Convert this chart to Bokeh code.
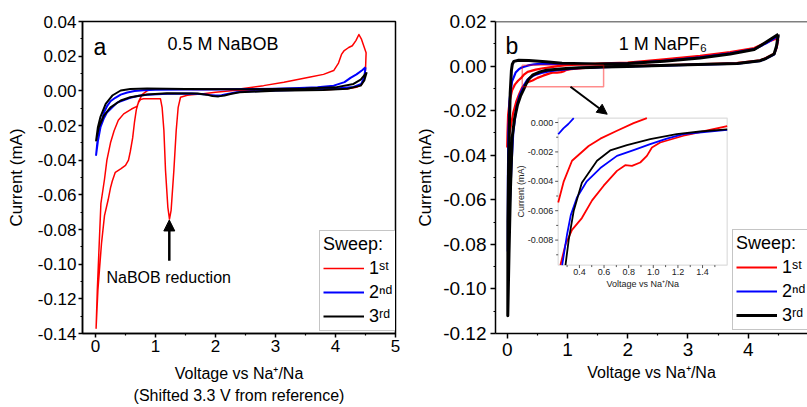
import numpy as np
from bokeh.plotting import figure
from bokeh.models import (Range1d, FixedTicker, NumeralTickFormatter, Label, Arrow,
                          NormalHead, BoxAnnotation, Span, Title)
from bokeh.layouts import row
from bokeh.embed import file_html
from bokeh.resources import INLINE
from bokeh.core.properties import value

FONT = "Liberation Sans"

# ---------------- data: panel a (0.5 M NaBOB) ----------------
a_red_v = [2.8, 2.3, 2.0, 1.8, 1.6, 1.53, 1.417, 1.378, 1.345, 1.306, 1.26, 1.233, 1.206, 1.167,
           1.14, 1.11, 1.083, 1.0, 0.9, 0.8, 0.75, 0.72, 0.69, 0.6, 0.47, 0.38, 0.31, 0.25, 0.19,
           0.15, 0.09, 0.055, 0.03, 0.01, 0.04, 0.1, 0.15, 0.21, 0.25, 0.28, 0.33, 0.42, 0.5, 0.55,
           0.58, 0.62, 0.65, 0.68, 0.72, 0.78, 0.86, 0.95, 1.2, 1.8, 2.4, 2.8, 3.14, 3.58, 3.8,
           3.97, 4.05, 4.1, 4.14, 4.22, 4.28, 4.34, 4.39, 4.43, 4.47, 4.51, 4.5, 4.47, 4.43, 4.35,
           4.2, 3.9, 3.4]
a_red_i = [0.0004, 0.0002, -0.0008, -0.0017, -0.0022, -0.0025, -0.0037, -0.0095, -0.0229, -0.046,
           -0.069, -0.074, -0.0672, -0.046, -0.0229, -0.0095, -0.0046, -0.0045, -0.0045, -0.0046,
           -0.0050, -0.0065, -0.009, -0.0105, -0.0133, -0.017, -0.023, -0.030, -0.040, -0.051,
           -0.065, -0.094, -0.115, -0.137, -0.115, -0.088, -0.072, -0.063, -0.056, -0.052,
           -0.047, -0.045, -0.043, -0.040, -0.035, -0.027, -0.018, -0.011, -0.006, -0.002, 0.0,
           0.001, 0.0009, 0.0007, 0.001, 0.003, 0.005, 0.008, 0.0095, 0.0117, 0.016, 0.021, 0.023,
           0.025, 0.026, 0.029, 0.0325, 0.030, 0.026, 0.022, 0.012, 0.006, 0.0035, 0.002, 0.0012,
           0.0008, 0.0005]

a_blue_v = [4.5, 4.48, 4.43, 4.3, 4.0, 3.5, 3.0, 2.6, 2.35, 2.2, 2.1, 2.0, 1.9, 1.8, 1.6, 1.2,
            0.86, 0.72, 0.58, 0.42, 0.36, 0.25, 0.19, 0.14, 0.083, 0.04, 0.01, 0.03, 0.055, 0.1,
            0.14, 0.19, 0.25, 0.33, 0.42, 0.53, 0.65, 0.8, 1.0, 1.5, 2.0, 2.5, 3.0, 3.4, 3.7,
            3.97, 4.15, 4.25, 4.35, 4.45, 4.5]
a_blue_i = [0.0136, 0.008, 0.004, 0.0022, 0.0013, 0.0006, 0.0002, -0.0003, -0.0008, -0.0018,
            -0.0025, -0.0027, -0.0024, -0.0019, -0.0016, -0.0017, -0.0023, -0.0028, -0.004, -0.006,
            -0.0068, -0.0105, -0.0125, -0.0158, -0.021, -0.029, -0.037, -0.030, -0.025, -0.018,
            -0.0125, -0.009, -0.006, -0.004, -0.0022, -0.001, -0.0001, 0.0004, 0.0006, 0.0007,
            0.0008, 0.001, 0.0012, 0.0016, 0.002, 0.003, 0.005, 0.0075, 0.0095, 0.012, 0.0136]

a_black_v = [4.52, 4.48, 4.42, 4.2, 3.8, 3.0, 2.4, 2.25, 2.15, 2.05, 1.95, 1.85, 1.7, 1.19, 0.86,
             0.58, 0.42, 0.25, 0.14, 0.055, 0.01, 0.04, 0.083, 0.17, 0.28, 0.42, 0.58, 0.86, 1.5,
             2.5, 3.5, 4.0, 4.3, 4.42, 4.52]
a_black_i = [0.0107, 0.006, 0.003, 0.0012, 0.0005, 0.0, -0.0008, -0.0018, -0.0027, -0.0032,
             -0.003, -0.0022, -0.0015, -0.0014, -0.0021, -0.0037, -0.0056, -0.0095, -0.0143,
             -0.021, -0.0287, -0.021, -0.015, -0.0075, -0.0027, 0.0002, 0.0011, 0.0013, 0.0011,
             0.0009, 0.0013, 0.002, 0.004, 0.0065, 0.0107]

# ---------------- data: panel b (1 M NaPF6) ----------------
b_red_v = [4.5, 4.47, 4.43, 4.3, 4.2, 3.8, 3.0, 2.4, 2.0, 1.6, 1.43, 1.245, 1.056, 0.989, 0.948,
           0.894, 0.827, 0.772, 0.705, 0.597, 0.503, 0.42, 0.34, 0.287, 0.246, 0.2, 0.15, 0.1,
           0.06, 0.02, 0.0, 0.005, 0.015, 0.04, 0.08, 0.13, 0.18, 0.228, 0.273, 0.34, 0.475,
           0.57, 0.705, 0.84, 0.948, 1.2, 1.6, 2.0, 2.6, 3.2, 3.7, 4.1, 4.3, 4.45, 4.5]
b_red_i = [0.012, 0.008, 0.0055, 0.0037, 0.0026, 0.0013, 0.0007, 0.0003, 0.0, -0.00025, -0.00056,
           -0.0009, -0.00136, -0.0017, -0.00227, -0.00272, -0.00295, -0.0029, -0.00329, -0.0043,
           -0.0053, -0.0065, -0.0073, -0.0083, -0.0097, -0.0125, -0.016, -0.021, -0.027, -0.033,
           -0.0362, -0.030, -0.022, -0.016, -0.011, -0.0082, -0.0066, -0.00544, -0.004, -0.0026,
           -0.0016, -0.0011, -0.00056, -0.00004, 0.0003, 0.0008, 0.0012, 0.0016, 0.003, 0.0046,
           0.0063, 0.0081, 0.0106, 0.0122, 0.012]

b_blue_v = [4.5, 4.47, 4.43, 4.3, 4.2, 3.82, 3.0, 2.4, 2.0, 1.6, 1.245, 1.11, 0.975, 0.84, 0.705,
            0.57, 0.46, 0.38, 0.33, 0.30, 0.26, 0.2, 0.15, 0.1, 0.07, 0.04, 0.01, 0.012, 0.02,
            0.04, 0.08, 0.14, 0.19, 0.228, 0.27, 0.31, 0.354, 0.45, 0.6, 1.0, 1.5, 2.0, 2.6, 3.2,
            3.7, 4.1, 4.3, 4.5]
b_blue_i = [0.0136, 0.0085, 0.0052, 0.0034, 0.0023, 0.0011, 0.0005, 0.0001, -0.0002, -0.0005,
            -0.00079, -0.00109, -0.00147, -0.00188, -0.00227, -0.0031, -0.004, -0.0051, -0.0063,
            -0.0076, -0.0097, -0.0135, -0.019, -0.030, -0.045, -0.065, -0.083, -0.050, -0.030,
            -0.015, -0.007, -0.0029, -0.0015, -0.0008, -0.0004, -0.0001, 0.0003, 0.0008, 0.0011,
            0.001, 0.0009, 0.0012, 0.0024, 0.0039, 0.0057, 0.0076, 0.0102, 0.0136]

b_black_v = [4.5, 4.47, 4.43, 4.3, 4.2, 3.82, 3.0, 2.4, 2.0, 1.6, 1.38, 1.19, 0.975, 0.786, 0.65,
             0.543, 0.42, 0.354, 0.313, 0.287, 0.22, 0.17, 0.12, 0.083, 0.055, 0.03, 0.01, 0.012,
             0.025, 0.05, 0.07, 0.085, 0.11, 0.19, 0.36, 0.64, 0.91, 1.46, 2.0, 2.6, 3.2, 3.7,
             4.1, 4.3, 4.5]
b_black_i = [0.0143, 0.009, 0.0054, 0.0035, 0.0024, 0.0012, 0.0006, 0.0002, -0.0002, -0.00046,
             -0.00061, -0.00079, -0.00113, -0.00154, -0.0019, -0.0026, -0.0041, -0.006, -0.008,
             -0.0097, -0.0135, -0.0175, -0.024, -0.032, -0.0545, -0.0844, -0.112, -0.070, -0.040,
             -0.012, -0.002, 0.0008, 0.0021, 0.0026, 0.0025, 0.0019, 0.0013, 0.0009, 0.0011,
             0.0022, 0.0036, 0.0054, 0.0074, 0.0108, 0.0143]

sweep_labels = ["1\u02e2\u1d57", "2\u207f\u1d48", "3\u02b3\u1d48"]
sweep_colors = ["#ff0000", "#0000ff", "#000000"]

a_x_ticks = [0, 1, 2, 3, 4, 5]
a_x_minor = [0.5, 1.5, 2.5, 3.5, 4.5]
a_y_ticks = [-0.14, -0.12, -0.10, -0.08, -0.06, -0.04, -0.02, 0.0, 0.02, 0.04]
a_y_minor = [-0.13, -0.11, -0.09, -0.07, -0.05, -0.03, -0.01, 0.01, 0.03]
b_x_ticks = [0, 1, 2, 3, 4, 5]
b_x_minor = [0.5, 1.5, 2.5, 3.5, 4.5]
b_y_ticks = [-0.12, -0.10, -0.08, -0.06, -0.04, -0.02, 0.0, 0.02]
b_y_minor = [-0.11, -0.09, -0.07, -0.05, -0.03, -0.01, 0.01]

inset_x_ticks = [0.4, 0.6, 0.8, 1.0, 1.2, 1.4]
inset_x_labels = ["0.4", "0.6", "0.8", "1.0", "1.2", "1.4"]
inset_x_minor = [0.3, 0.5, 0.7, 0.9, 1.1, 1.3, 1.5]
inset_y_ticks = [0.0, -0.002, -0.004, -0.006, -0.008]
inset_y_labels = ["0.000", "-0.002", "-0.004", "-0.006", "-0.008"]
inset_y_minor = [-0.001, -0.003, -0.005, -0.007, -0.009]

# inset layout (source window -> place in panel b data coords)
INS_XS = (0.2275, 1.6)
INS_YS = (-0.0097, 0.0003)
INS_XT = (0.846, 3.651)
INS_YT = (-0.0893, -0.02335)


def style(p, tick_size, xlab_size, ylab_size, xstand, ystand, tick_stand, tick_out):
    for ax in (p.xaxis[0], p.yaxis[0]):
        ax.axis_line_color = "black"
        ax.axis_line_width = 1.5
        ax.major_tick_line_color = "black"
        ax.minor_tick_line_color = "black"
        ax.major_tick_line_width = 1.5
        ax.minor_tick_line_width = 1.2
        ax.major_tick_in = 0
        ax.major_tick_out = tick_out
        ax.minor_tick_in = 0
        ax.minor_tick_out = 2
        ax.major_label_text_font = FONT
        ax.major_label_text_font_size = tick_size
        ax.major_label_text_color = "black"
        ax.major_label_standoff = tick_stand
        ax.axis_label_text_font = FONT
        ax.axis_label_text_font_style = "normal"
        ax.axis_label_text_color = "black"
    p.xaxis[0].axis_label_text_font_size = xlab_size
    p.yaxis[0].axis_label_text_font_size = ylab_size
    p.xaxis[0].axis_label_standoff = xstand
    p.yaxis[0].axis_label_standoff = ystand
    p.xgrid.visible = False
    p.ygrid.visible = False


def style_legend(p, loc):
    lg = p.legend[0]
    lg.title = "Sweep:"
    lg.title_text_font = FONT
    lg.title_text_font_size = "18px"
    lg.title_text_font_style = "normal"
    lg.title_text_color = "black"
    lg.title_standoff = 2
    lg.label_text_font = FONT
    lg.label_text_font_size = "18px"
    lg.label_text_color = "black"
    lg.location = loc
    lg.margin = 0
    lg.padding = 3
    lg.spacing = 2
    lg.glyph_width = 41
    lg.glyph_height = 22
    lg.label_height = 22
    lg.label_standoff = 5
    lg.border_line_color = "#8c8c8c"
    lg.border_line_width = 1.5
    lg.background_fill_alpha = 1.0


# ---------------- panel a ----------------
pa = figure(width=400, height=407, x_range=Range1d(-0.2167, 5.0), y_range=Range1d(-0.14, 0.04),
            output_backend="svg", toolbar_location=None,
            min_border_left=82, min_border_right=5, min_border_top=21, min_border_bottom=74,
            x_axis_label="Voltage vs Na\u207a/Na", y_axis_label="Current (mA)")
pa.outline_line_color = "black"
pa.outline_line_width = 1.5
pa.background_fill_color = "white"

for v, i, c, lab, w in zip([a_red_v, a_blue_v, a_black_v], [a_red_i, a_blue_i, a_black_i],
                           sweep_colors, sweep_labels, [1.5, 2.0, 2.0]):
    pa.line(v, i, line_color=c, line_width=w, line_join="round", legend_label=lab)

pa.xaxis.ticker = FixedTicker(ticks=a_x_ticks, minor_ticks=a_x_minor)
pa.yaxis.ticker = FixedTicker(ticks=a_y_ticks, minor_ticks=a_y_minor)
pa.yaxis.formatter = NumeralTickFormatter(format="0.00")
pa.xaxis.formatter = NumeralTickFormatter(format="0")
style(pa, "17px", "16px", "17px", 10, 9, 2, 4)
style_legend(pa, (237, 2))

pa.add_layout(Title(text="(Shifted 3.3 V from reference)", align="center", standoff=0,
                    text_font=FONT, text_font_size="16px", text_font_style="normal",
                    text_color="black"), "below")

pa.add_layout(Label(x=-0.033, y=0.0252, text="a", text_font=FONT, text_font_size="23px",
                    text_color="black", text_align="left", text_baseline="alphabetic"))
pa.add_layout(Label(x=1.2, y=0.0271, text="0.5 M NaBOB", text_font=FONT, text_font_size="18px",
                    text_color="black", text_align="left", text_baseline="alphabetic"))
pa.add_layout(Label(x=1.22, y=-0.1079, text="NaBOB reduction", text_font=FONT,
                    text_font_size="16px", text_color="black", text_align="center",
                    text_baseline="alphabetic"))
pa.add_layout(Arrow(end=NormalHead(size=11, fill_color="black", line_color="black"),
                    x_start=1.23, y_start=-0.098, x_end=1.23, y_end=-0.0745,
                    line_width=2.5, line_color="black"))

# ---------------- panel b ----------------
pb = figure(width=407, height=407, x_range=Range1d(-0.194, 4.984), y_range=Range1d(-0.12, 0.02),
            output_backend="svg", toolbar_location=None,
            min_border_left=95, min_border_right=0, min_border_top=21, min_border_bottom=74,
            x_axis_label="Voltage vs Na\u207a/Na", y_axis_label="Current (mA)")
pb.outline_line_color = None
pb.add_layout(Span(location=0.02, dimension="width", line_color="black", line_width=1.5))

# inset background (under the glyphs)
pb.add_layout(BoxAnnotation(left=INS_XT[0], right=INS_XT[1], bottom=INS_YT[0], top=INS_YT[1],
                            fill_color="white", fill_alpha=1.0, line_color="#8c8c8c",
                            line_width=1.2, level="underlay"))

for v, i, c, lab, w in zip([b_red_v, b_blue_v, b_black_v], [b_red_i, b_blue_i, b_black_i],
                           sweep_colors, sweep_labels, [2.2, 2.2, 3.0]):
    pb.line(v, i, line_color=c, line_width=w, line_join="round", legend_label=lab)

pb.xaxis.ticker = FixedTicker(ticks=b_x_ticks, minor_ticks=b_x_minor)
pb.yaxis.ticker = FixedTicker(ticks=b_y_ticks, minor_ticks=b_y_minor)
pb.yaxis.formatter = NumeralTickFormatter(format="0.00")
pb.xaxis.formatter = NumeralTickFormatter(format="0")
style(pb, "19px", "16px", "17px", 5, 5, 4, 5)
style_legend(pb, (237, 3))

pb.add_layout(Label(x=-0.03, y=0.0089, text="b", text_font=FONT, text_font_size="23px",
                    text_color="black", text_align="left", text_baseline="alphabetic"))
pb.add_layout(Label(x=1.85, y=0.0099, text="1 M NaPF\u2086", text_font=FONT,
                    text_font_size="18px", text_color="black", text_align="left",
                    text_baseline="alphabetic"))
pb.add_layout(BoxAnnotation(left=0.25, right=1.6, bottom=-0.0093, top=0.0004,
                            fill_alpha=0.0, line_color="#ff0000", line_alpha=0.45,
                            line_width=1.5))
pb.add_layout(Arrow(end=NormalHead(size=10, fill_color="black", line_color="black"),
                    x_start=1.05, y_start=-0.0093, x_end=1.66, y_end=-0.0216,
                    line_width=2.0, line_color="black"))

# ---------------- inset (sub-coordinates inside panel b) ----------------
ins = pb.subplot(x_source=Range1d(*INS_XS), y_source=Range1d(*INS_YS),
                 x_target=Range1d(*INS_XT), y_target=Range1d(*INS_YT))


def inset_runs(vs, cs):
    runs_x, runs_y = [], []
    cx, cy = [], []
    for xv, yv in zip(vs, cs):
        ok = (INS_XS[0] - 1e-9 <= xv <= INS_XS[1] + 1e-9) and (INS_YS[0] - 1e-9 <= yv <= INS_YS[1] + 1e-9)
        if ok:
            cx.append(xv)
            cy.append(yv)
        else:
            if len(cx) > 1:
                runs_x.append(cx)
                runs_y.append(cy)
            cx, cy = [], []
    if len(cx) > 1:
        runs_x.append(cx)
        runs_y.append(cy)
    return runs_x, runs_y


for v, i, c in zip([b_red_v, b_blue_v, b_black_v], [b_red_i, b_blue_i, b_black_i], sweep_colors):
    rx, ry = inset_runs(v, i)
    ins.multi_line(rx, ry, line_color=c, line_width=1.8, line_join="round")

n = len(inset_x_ticks)
ins.ray(x=inset_x_ticks, y=[INS_YS[0]] * n, length=3, length_units="screen",
        angle=-np.pi / 2, line_color="#555555", line_width=1)
ins.ray(x=inset_x_minor, y=[INS_YS[0]] * len(inset_x_minor), length=2, length_units="screen",
        angle=-np.pi / 2, line_color="#555555", line_width=1)
ins.ray(x=[INS_XS[0]] * len(inset_y_ticks), y=inset_y_ticks, length=3, length_units="screen",
        angle=np.pi, line_color="#555555", line_width=1)
ins.ray(x=[INS_XS[0]] * len(inset_y_minor), y=inset_y_minor, length=2, length_units="screen",
        angle=np.pi, line_color="#555555", line_width=1)
ins.text(x=inset_x_ticks, y=[INS_YS[0]] * n, text=inset_x_labels, y_offset=4,
         text_align="center", text_baseline="top", text_font=value(FONT),
         text_font_size="9px", text_color="#222222")
ins.text(x=[INS_XS[0]] * len(inset_y_ticks), y=inset_y_ticks, text=inset_y_labels, x_offset=-5,
         text_align="right", text_baseline="middle", text_font=value(FONT),
         text_font_size="9px", text_color="#222222")
ins.text(x=[0.914], y=[INS_YS[0]], text=["Voltage vs Na\u207a/Na"], y_offset=14,
         text_align="center", text_baseline="top", text_font=value(FONT),
         text_font_size="9px", text_color="#222222")
ins.text(x=[INS_XS[0]], y=[-0.0047], text=["Current (mA)"], x_offset=-37, angle=np.pi / 2,
         text_align="center", text_baseline="middle", text_font=value(FONT),
         text_font_size="9px", text_color="#222222")

layout = row(pa, pb)
open("out.html", "w").write(file_html(layout, INLINE))
